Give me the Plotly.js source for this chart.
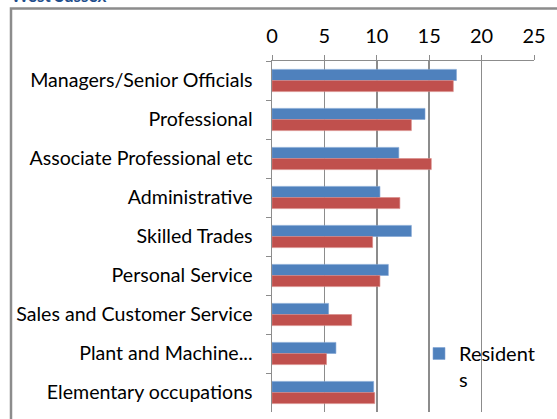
<!DOCTYPE html>
<html>
<head>
<meta charset="utf-8">
<script src="https://cdn.plot.ly/plotly-3.0.1.min.js"></script>
<style>html,body{margin:0;padding:0;background:#fff;}#chart{width:557px;height:419px;}</style>
</head>
<body>
<div id="chart"></div>
<script>
const categories = [
  "Managers/Senior Officials",
  "Professional",
  "Associate Professional etc",
  "Administrative",
  "Skilled Trades",
  "Personal Service",
  "Sales and Customer Service",
  "Plant and Machine...",
  "Elementary occupations"
];
const residents = [17.6, 14.6, 12.1, 10.3, 13.3, 11.1, 5.4, 6.1, 9.7];
const workplace = [17.3, 13.3, 15.2, 12.2, 9.6, 10.3, 7.6, 5.2, 9.8];
const xTicks = [0, 5, 10, 15, 20, 25];
const chartTitle = "West Sussex";

const L = 272, R = 534, T = 61, B = 412, W = 557, H = 419;
const pw = R - L, ph = B - T;
const px = v => (v - L) / pw;
const py = v => (B - v) / ph;

const font = "Lato, 'Open Sans', sans-serif";
const fs = 20;

const traces = [
  {
    type: "bar", orientation: "h", name: "Resident<br>s",
    y: categories, x: residents,
    marker: {color: "#4F81BD", line: {color: "#7fa3d3", width: 0.6}},
    hoverinfo: "x+y"
  },
  {
    type: "bar", orientation: "h", name: "Workplace", showlegend: false,
    y: categories, x: workplace,
    marker: {color: "#C0504D", line: {color: "#d88986", width: 0.6}},
    hoverinfo: "x+y"
  }
];

const layout = {
  width: W, height: H,
  margin: {l: L, r: W - R, t: T, b: H - B, pad: 0},
  paper_bgcolor: "#fff", plot_bgcolor: "rgba(0,0,0,0)",
  font: {family: font, size: fs, color: "#000"},
  barmode: "group", bargap: 0.43, bargroupgap: 0,
  showlegend: true,
  annotations: [
    {
      text: "<b>" + chartTitle + "</b>", showarrow: false,
      xref: "paper", yref: "paper", x: px(9), y: py(8),
      xanchor: "left", yanchor: "bottom",
      font: {family: font, size: 17, color: "#1F4E8C"}
    }
  ],
  legend: {
    x: px(419), y: py(334), xanchor: "left", yanchor: "top",
    bgcolor: "rgba(0,0,0,0)", borderwidth: 0,
    font: {family: font, size: fs, color: "#000"},
    valign: "top", itemwidth: 30, tracegroupgap: 0
  },
  xaxis: {
    side: "top", range: [0, 25], tickvals: xTicks, ticktext: xTicks.map(String),
    showgrid: true, gridcolor: "#8c8c8c", gridwidth: 1.5,
    showline: true, linecolor: "#8c8c8c", linewidth: 1.5,
    ticks: "outside", ticklen: 5, tickcolor: "#8c8c8c", tickwidth: 1,
    ticklabelstandoff: 4,
    zeroline: false, fixedrange: true,
    tickfont: {family: font, size: fs, color: "#000"}
  },
  yaxis: {
    type: "category", categoryorder: "array", categoryarray: categories,
    autorange: "reversed",
    showgrid: false, zeroline: false,
    showline: true, linecolor: "#8c8c8c", linewidth: 1.5,
    ticks: "outside", ticklen: 5, tickcolor: "#8c8c8c", tickwidth: 1,
    tickson: "boundaries", ticklabelstandoff: 14,
    fixedrange: true,
    tickfont: {family: font, size: 19.6, color: "#000"}
  },
  shapes: [
    {
      type: "rect", xref: "paper", yref: "paper", layer: "below",
      x0: px(11), x1: px(W + 10), y0: py(H + 10), y1: py(8.5),
      line: {color: "#8c8c8c", width: 2.5}, fillcolor: "rgba(0,0,0,0)"
    }
  ]
};

Plotly.newPlot("chart", traces, layout, {displayModeBar: false, staticPlot: true});
</script>
</body>
</html>
